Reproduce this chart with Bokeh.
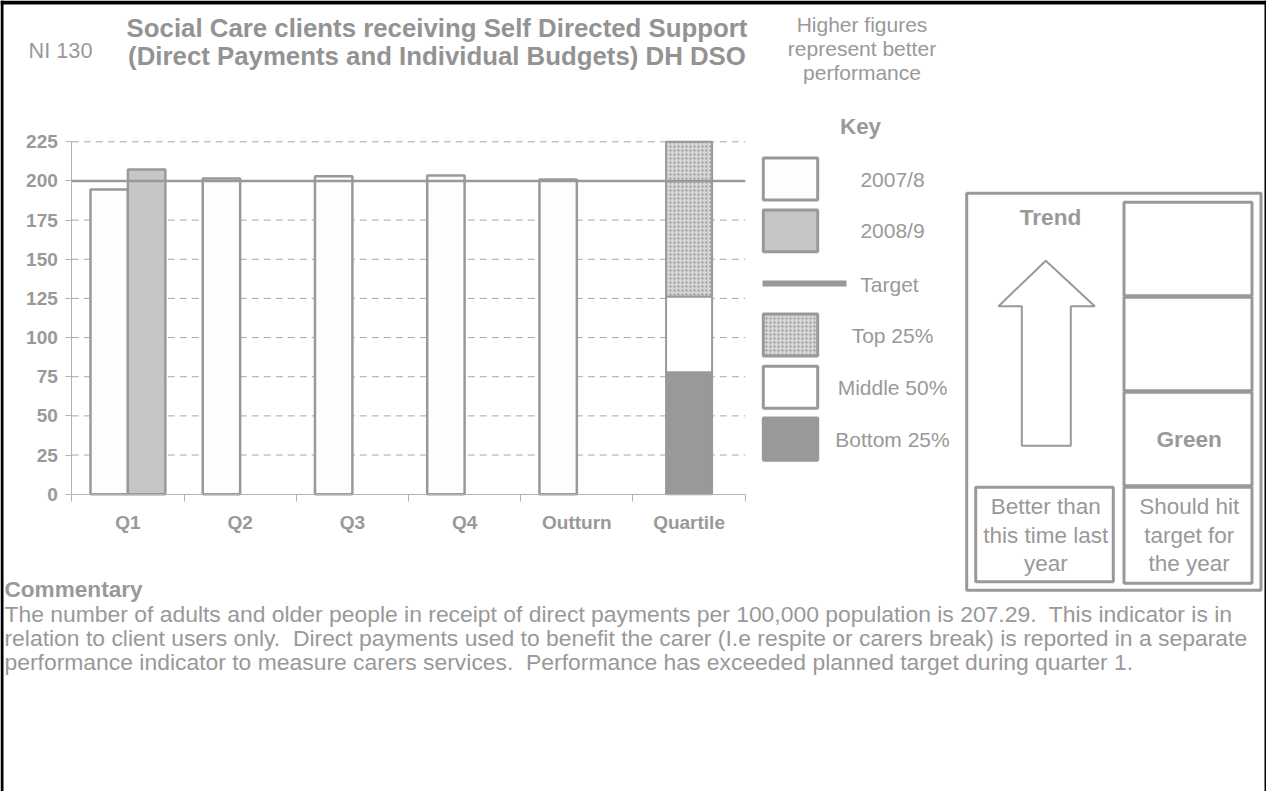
from bokeh.plotting import figure
from bokeh.models import Range1d, LinearAxis, FixedTicker
from bokeh.embed import file_html
from bokeh.resources import INLINE
from bokeh.core.properties import value

# ---------------- data ----------------
categories = ["Q1", "Q2", "Q3", "Q4", "Outturn", "Quartile"]
values_2007_8 = [194.5, 201.5, 203.0, 203.5, 201.0]      # Q1..Outturn
values_2008_9 = [207.29]                                  # Q1 only
target_value = 200
quartile_bottom_top = 77.8     # bottom 25% upper bound
quartile_middle_top = 126.3    # middle 50% upper bound
quartile_top_top = 225.0       # top 25% upper bound
y_ticks = [0, 25, 50, 75, 100, 125, 150, 175, 200, 225]

key_labels = ["2007/8", "2008/9", "Target", "Top 25%", "Middle 50%", "Bottom 25%"]
indicator_code = "NI 130"
title_lines = ["Social Care clients receiving Self Directed Support",
               "(Direct Payments and Individual Budgets) DH DSO"]
polarity_lines = ["Higher figures", "represent better", "performance"]
key_title = "Key"
trend_title = "Trend"
target_rating = "Green"
trend_caption = ["Better than", "this time last", "year"]
target_caption = ["Should hit", "target for", "the year"]
commentary_title = "Commentary"
commentary_lines = [
    "The number of adults and older people in receipt of direct payments per 100,000 population is 207.29.\u00a0 This indicator is in",
    "relation to client users only.\u00a0 Direct payments used to benefit the carer (I.e respite or carers break) is reported in a separate",
    "performance indicator to measure carers services.\u00a0 Performance has exceeded planned target during quarter 1.",
]

# ---------------- page canvas ----------------
W, H = 1266, 791
OX, OY = 8, 8
p = figure(width=W, height=H, x_range=Range1d(OX, OX + W), y_range=Range1d(OY + H, OY),
           x_axis_type=None, y_axis_type=None, output_backend="svg",
           toolbar_location=None, min_border=0)
p.outline_line_color = None
p.background_fill_color = "white"
p.border_fill_color = "white"

GRAY = "#999999"
TXT = "#999999"
FONT = "Liberation Sans"
CHECK = dict(hatch_pattern="dot", hatch_scale=4, hatch_weight=3, hatch_color="#929292")


def txt(x, y, s, size, bold=False, align="center", color=TXT):
    xs = x if isinstance(x, list) else [x]
    ys = y if isinstance(y, list) else [y]
    ss = s if isinstance(s, list) else [s]
    p.text(x=xs, y=ys, text=ss, text_font=value(FONT), text_font_size=value(f"{size}px"),
           text_font_style="bold" if bold else "normal", text_align=align,
           text_baseline="middle", text_color=color)


def box(l, r, t, b, fill="white", lw=3, line=GRAY, **kw):
    h = lw / 2.0
    p.quad(left=[l + h], right=[r - h], top=[t + h], bottom=[b - h], fill_color=fill,
           line_color=line, line_width=lw, **kw)


# black page frame
p.quad(left=[OX], right=[OX + W], top=[OY], bottom=[OY + 4], fill_color="black", line_color=None)
p.quad(left=[OX], right=[OX + 3], top=[OY], bottom=[OY + H], fill_color="black", line_color=None)
p.quad(left=[OX + W - 2], right=[OX + W], top=[OY], bottom=[OY + H], fill_color="black", line_color=None)

# ---------------- chart (own scales) ----------------
AX_L, AX_R = 79.3, 752.7
AX_B, AX_T = 501.7, 149.3
YMAX = y_ticks[-1]
ncat = len(categories)
ppx = (AX_R - AX_L) / ncat
ppy = (AX_B - AX_T) / YMAX
p.extra_x_ranges = {"cx": Range1d((OX - AX_L) / ppx, (OX + W - AX_L) / ppx)}
p.extra_y_ranges = {"cy": Range1d((AX_B - (OY + H)) / ppy, (AX_B - OY) / ppy)}
C = dict(x_range_name="cx", y_range_name="cy")

grid_ticks = y_ticks[1:]
p.segment(x0=[0] * len(grid_ticks), x1=[ncat] * len(grid_ticks), y0=grid_ticks, y1=grid_ticks,
          line_color="#a8a8a8", line_width=1, line_dash="7 5", **C)

bw = 1 / 3
x07 = [i + 0.5 - bw / 2 for i in range(len(values_2007_8))]
p.vbar(x=x07, top=values_2007_8, bottom=0, width=bw, fill_color="#fdfdfd",
       line_color=GRAY, line_width=2.5, **C)
x08 = [i + 0.5 + bw / 2 for i in range(len(values_2008_9))]
p.vbar(x=x08, top=values_2008_9, bottom=0, width=bw, fill_color="#c6c6c6",
       line_color=GRAY, line_width=2.5, **C)

qx = categories.index("Quartile") + 0.5
qw = 0.41
p.vbar(x=[qx], bottom=[0], top=[quartile_bottom_top], width=qw, fill_color=GRAY,
       line_color=GRAY, line_width=2, **C)
p.vbar(x=[qx], bottom=[quartile_bottom_top], top=[quartile_middle_top], width=qw,
       fill_color="white", line_color=GRAY, line_width=2, **C)
p.vbar(x=[qx], bottom=[quartile_middle_top], top=[quartile_top_top], width=qw,
       fill_color="#d4d4d4", line_color=GRAY, line_width=2, **CHECK, **C)

p.line(x=[0, ncat], y=[target_value, target_value], line_color=GRAY, line_width=2.5, **C)

yax = LinearAxis(fixed_location=0, bounds=(0, YMAX), ticker=FixedTicker(ticks=y_ticks), **C)
yax.axis_line_color = "#b3b3b3"
yax.major_tick_line_color = "#b3b3b3"
yax.major_tick_out = 6
yax.major_tick_in = 0
yax.minor_tick_line_color = None
yax.major_label_text_font = FONT
yax.major_label_text_font_style = "bold"
yax.major_label_text_font_size = "19px"
yax.major_label_text_color = TXT
yax.major_label_standoff = 8
p.add_layout(yax, "left")

xax = LinearAxis(fixed_location=0, bounds=(0, ncat), ticker=FixedTicker(ticks=list(range(ncat + 1))), **C)
xax.axis_line_color = "#b3b3b3"
xax.major_tick_line_color = "#b3b3b3"
xax.major_tick_out = 7
xax.major_tick_in = 0
xax.minor_tick_line_color = None
xax.major_label_text_color = None
p.add_layout(xax, "below")

cat_ticks = [i + 0.5 for i in range(ncat)]
xlab = LinearAxis(fixed_location=0, ticker=FixedTicker(ticks=cat_ticks),
                  major_label_overrides={t: c for t, c in zip(cat_ticks, categories)}, **C)
xlab.axis_line_color = None
xlab.major_tick_line_color = None
xlab.major_tick_out = 0
xlab.major_tick_in = 0
xlab.minor_tick_line_color = None
xlab.major_label_text_font = FONT
xlab.major_label_text_font_style = "bold"
xlab.major_label_text_font_size = "19px"
xlab.major_label_text_color = TXT
xlab.major_label_standoff = 18
p.add_layout(xlab, "below")

# ---------------- header ----------------
txt(68, 58, indicator_code, 21.7)
txt([444.5, 444.5], [35, 63], title_lines, 25.8, bold=True, color="#939393")
txt([869.5] * 3, [32, 56, 80], polarity_lines, 21)

# ---------------- key ----------------
txt(868, 134, key_title, 22.4, bold=True)
KL, KR = 769.3, 826.7
box(KL, KR, 164, 209, fill="#fdfdfd")
box(KL, KR, 216, 260.7, fill="#c6c6c6")
p.quad(left=[770], right=[854], top=[288], bottom=[294], fill_color=GRAY, line_color=None)
box(KL, KR, 320, 365, fill="#d4d4d4", **CHECK)
box(KL, KR, 372.3, 417.3, fill="white")
box(KL, KR, 424, 469.3, fill=GRAY)
txt([900, 900, 897, 900, 900, 900], [186.7, 238.3, 291.7, 342.7, 395, 446.7], key_labels, 21)

# ---------------- trend / target panel ----------------
box(972.7, 1270, 199.3, 599.3, fill="white")
rows = [208.3, 303.3, 398.3, 493.3, 590.7]
for t, b in zip(rows[:-1], rows[1:]):
    box(1130, 1261, t, b + 1.5, fill="white")
box(981.7, 1122.3, 493.3, 590.7, fill="white")
p.patch(x=[1053.3, 1102.3, 1078.3, 1078.3, 1029.3, 1029.3, 1006, 1053.3],
        y=[268.3, 313.7, 313.7, 453.3, 453.3, 313.7, 313.7, 268.3],
        fill_color="white", line_color=GRAY, line_width=2)
txt(1058, 225, trend_title, 22.6, bold=True)
txt(1196.7, 446.7, target_rating, 22.6, bold=True)
txt([1053.3] * 3, [514, 542.5, 571], trend_caption, 22.5)
txt([1196.7] * 3, [514, 542.5, 571], target_caption, 22.5)

# ---------------- commentary ----------------
txt(12, 597, commentary_title, 22.6, bold=True, align="left")
txt([12] * 3, [621, 645, 669], commentary_lines, 22.9, align="left")

open("out.html", "w").write(file_html(p, INLINE))
